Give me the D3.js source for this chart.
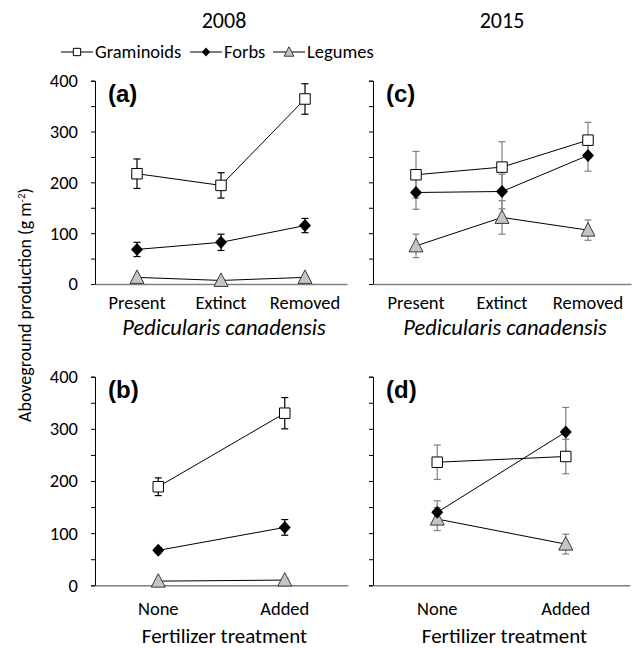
<!DOCTYPE html>
<html><head><meta charset="utf-8">
<script src="https://cdn.jsdelivr.net/npm/d3@7"></script>
<style>
html,body{margin:0;padding:0;background:#fff;}
svg text{font-family:Carlito, Lato, "Open Sans", sans-serif;fill:#000;}
</style></head>
<body><svg id="chart" width="637" height="649"></svg>
<script>
// ---- data ----
const seriesNames = ["Graminoids", "Forbs", "Legumes"];
const pedCategories = ["Present", "Extinct", "Removed"];
const fertCategories = ["None", "Added"];
const yTicks = [0, 100, 200, 300, 400];
const yMinorTicks = [0, 50, 100, 150, 200, 250, 300, 350, 400];
const years = ["2008", "2015"];

// panel (a) 2008, Pedicularis
const aGraminoids = [217, 194, 364], aGraminoidsSE = [29, 25, 30];
const aForbs = [68, 82, 115], aForbsSE = [14, 16, 14];
const aLegumes = [13, 7, 13], aLegumesSE = [2, 2, 2];
// panel (c) 2015, Pedicularis
const cGraminoids = [215, 230, 283], cGraminoidsSE = [46, 50, 35];
const cForbs = [180, 182, 253], cForbsSE = [33, 34, 31];
const cLegumes = [75, 131, 106], cLegumesSE = [23, 33, 20];
// panel (b) 2008, Fertilizer
const bGraminoids = [189, 330], bGraminoidsSE = [17, 30];
const bForbs = [67, 111], bForbsSE = [5, 15];
const bLegumes = [8, 10], bLegumesSE = [2, 2];
// panel (d) 2015, Fertilizer
const dGraminoids = [236, 247], dGraminoidsSE = [33, 33];
const dForbs = [140, 294], dForbsSE = [22, 47];
const dLegumes = [127, 79], dLegumesSE = [22, 19];

const panels = [
  {label: "(a)", cats: pedCategories, x0: 95, x1: 347, yTop: 80.7, yBot: 284, showY: true, errColor: "#000",
   xTitle: "Pedicularis canadensis", italic: true, pad: 12,
   series: [[aGraminoids, aGraminoidsSE], [aForbs, aForbsSE], [aLegumes, aLegumesSE]]},
  {label: "(c)", cats: pedCategories, x0: 373, x1: 631, yTop: 80.7, yBot: 284, showY: false, errColor: "#808080",
   xTitle: "Pedicularis canadensis", italic: true, pad: 12,
   series: [[cGraminoids, cGraminoidsSE], [cForbs, cForbsSE], [cLegumes, cLegumesSE]]},
  {label: "(b)", cats: fertCategories, x0: 95, x1: 348, yTop: 376.7, yBot: 585.3, showY: true, errColor: "#000",
   xTitle: "Fertilizer treatment", italic: false, pad: 17,
   series: [[bGraminoids, bGraminoidsSE], [bForbs, bForbsSE], [bLegumes, bLegumesSE]]},
  {label: "(d)", cats: fertCategories, x0: 373, x1: 630, yTop: 376.7, yBot: 585.3, showY: false, errColor: "#808080",
   xTitle: "Fertilizer treatment", italic: false, pad: 17,
   series: [[dGraminoids, dGraminoidsSE], [dForbs, dForbsSE], [dLegumes, dLegumesSE]]}
];

const svg = d3.select("#chart");
const TICK_FS = 18.5;

const symSquare = d3.symbol().type(d3.symbolSquare).size(110)();
const symDiamond = "M0,-6.5L6,0L0,6.5L-6,0Z";
const symTri = "M0,-7.5L7,6L-7,6Z";
function drawMarker(g, k, x, y, scale) {
  scale = scale || 1;
  const t = `translate(${x},${y}) scale(${scale})`;
  if (k === 0) g.append("path").attr("d", symSquare).attr("transform", t).attr("fill", "#fff").attr("stroke", "#000").attr("stroke-width", 1 / scale);
  else if (k === 1) g.append("path").attr("d", symDiamond).attr("transform", t).attr("fill", "#000");
  else g.append("path").attr("d", symTri).attr("transform", t).attr("fill", "#c4c4c4").attr("stroke", "#3a3a3a").attr("stroke-width", 1 / scale);
}

panels.forEach(p => {
  const g = svg.append("g");
  const x = d3.scaleBand().domain(p.cats).range([p.x0, p.x1]);
  const y = d3.scaleLinear().domain([0, 400]).range([p.yBot, p.yTop]);
  const cx = c => x(c) + x.bandwidth() / 2;

  // y axis
  const ya = g.append("g").attr("transform", `translate(${p.x0},0)`)
    .call(d3.axisLeft(y).tickValues(yMinorTicks).tickSize(4).tickFormat(""));
  ya.select(".domain").attr("stroke", "#000");
  ya.selectAll(".tick line").attr("stroke", "#000");
  if (p.showY) {
    g.selectAll(".ylab").data(yTicks).enter().append("text")
      .attr("x", p.x0 - 17).attr("y", d => y(d)).attr("dy", "0.35em")
      .attr("text-anchor", "end").attr("font-size", TICK_FS).text(d => d);
  }
  // x axis
  const xa = g.append("g").attr("transform", `translate(0,${p.yBot})`)
    .call(d3.axisBottom(x).tickSize(0).tickPadding(p.pad));
  xa.select(".domain").attr("stroke", "#7f7f7f").attr("stroke-width", 1.5);
  xa.selectAll("text").attr("font-size", TICK_FS).attr("font-family", "Carlito, Lato, 'Open Sans', sans-serif");

  // x title
  g.append("text").attr("x", (p.x0 + p.x1) / 2 + 3).attr("y", p.yBot + (p.italic ? 51 : 57.5))
    .attr("text-anchor", "middle").attr("font-size", p.italic ? 22.5 : 21)
    .attr("font-style", p.italic ? "italic" : "normal").text(p.xTitle);

  // panel label
  g.append("text").attr("x", p.x0 + 13).attr("y", p.yTop + 21)
    .attr("font-size", 24).attr("font-weight", "bold")
    .style("font-family", "Arial, 'Liberation Sans', sans-serif").text(p.label);

  // lines
  const line = d3.line().x((d, i) => cx(p.cats[i])).y(d => y(d));
  p.series.forEach(([vals, se], k) => {
    g.append("path").attr("d", line(vals)).attr("fill", "none").attr("stroke", "#000").attr("stroke-width", 1);
  });
  // error bars
  p.series.forEach(([vals, se], k) => {
    vals.forEach((v, i) => {
      const xx = cx(p.cats[i]);
      const eb = g.append("g").attr("stroke", p.errColor).attr("stroke-width", 1.2);
      eb.append("line").attr("x1", xx).attr("x2", xx).attr("y1", y(v - se[i])).attr("y2", y(v + se[i]));
      eb.append("line").attr("x1", xx - 3.5).attr("x2", xx + 3.5).attr("y1", y(v - se[i])).attr("y2", y(v - se[i]));
      eb.append("line").attr("x1", xx - 3.5).attr("x2", xx + 3.5).attr("y1", y(v + se[i])).attr("y2", y(v + se[i]));
    });
  });
  // markers
  [2, 1, 0].forEach(k => {
    const [vals] = p.series[k];
    vals.forEach((v, i) => drawMarker(g, k, cx(p.cats[i]), y(v)));
  });
});

// year titles
svg.selectAll(".year").data(years).enter().append("text")
  .attr("x", (d, i) => i === 0 ? 224 : 502).attr("y", 28)
  .attr("text-anchor", "middle").attr("font-size", 22).text(d => d);

// y title
svg.append("text").attr("transform", "translate(31,305) rotate(-90)")
  .attr("text-anchor", "middle").attr("font-size", 18)
  .html('Aboveground production (g m<tspan baseline-shift="super" font-size="11">-2</tspan>)');

// legend
const legX = [61, 190, 273];
const leg = svg.append("g");
seriesNames.forEach((name, k) => {
  const lx = legX[k];
  leg.append("line").attr("x1", lx).attr("x2", lx + 32).attr("y1", 52).attr("y2", 52).attr("stroke", "#000");
  drawMarker(leg, k, lx + 16, 52, 0.7);
  leg.append("text").attr("x", lx + 34).attr("y", 52).attr("dy", "0.35em").attr("font-size", 18.5).text(name);
});
</script></body></html>
